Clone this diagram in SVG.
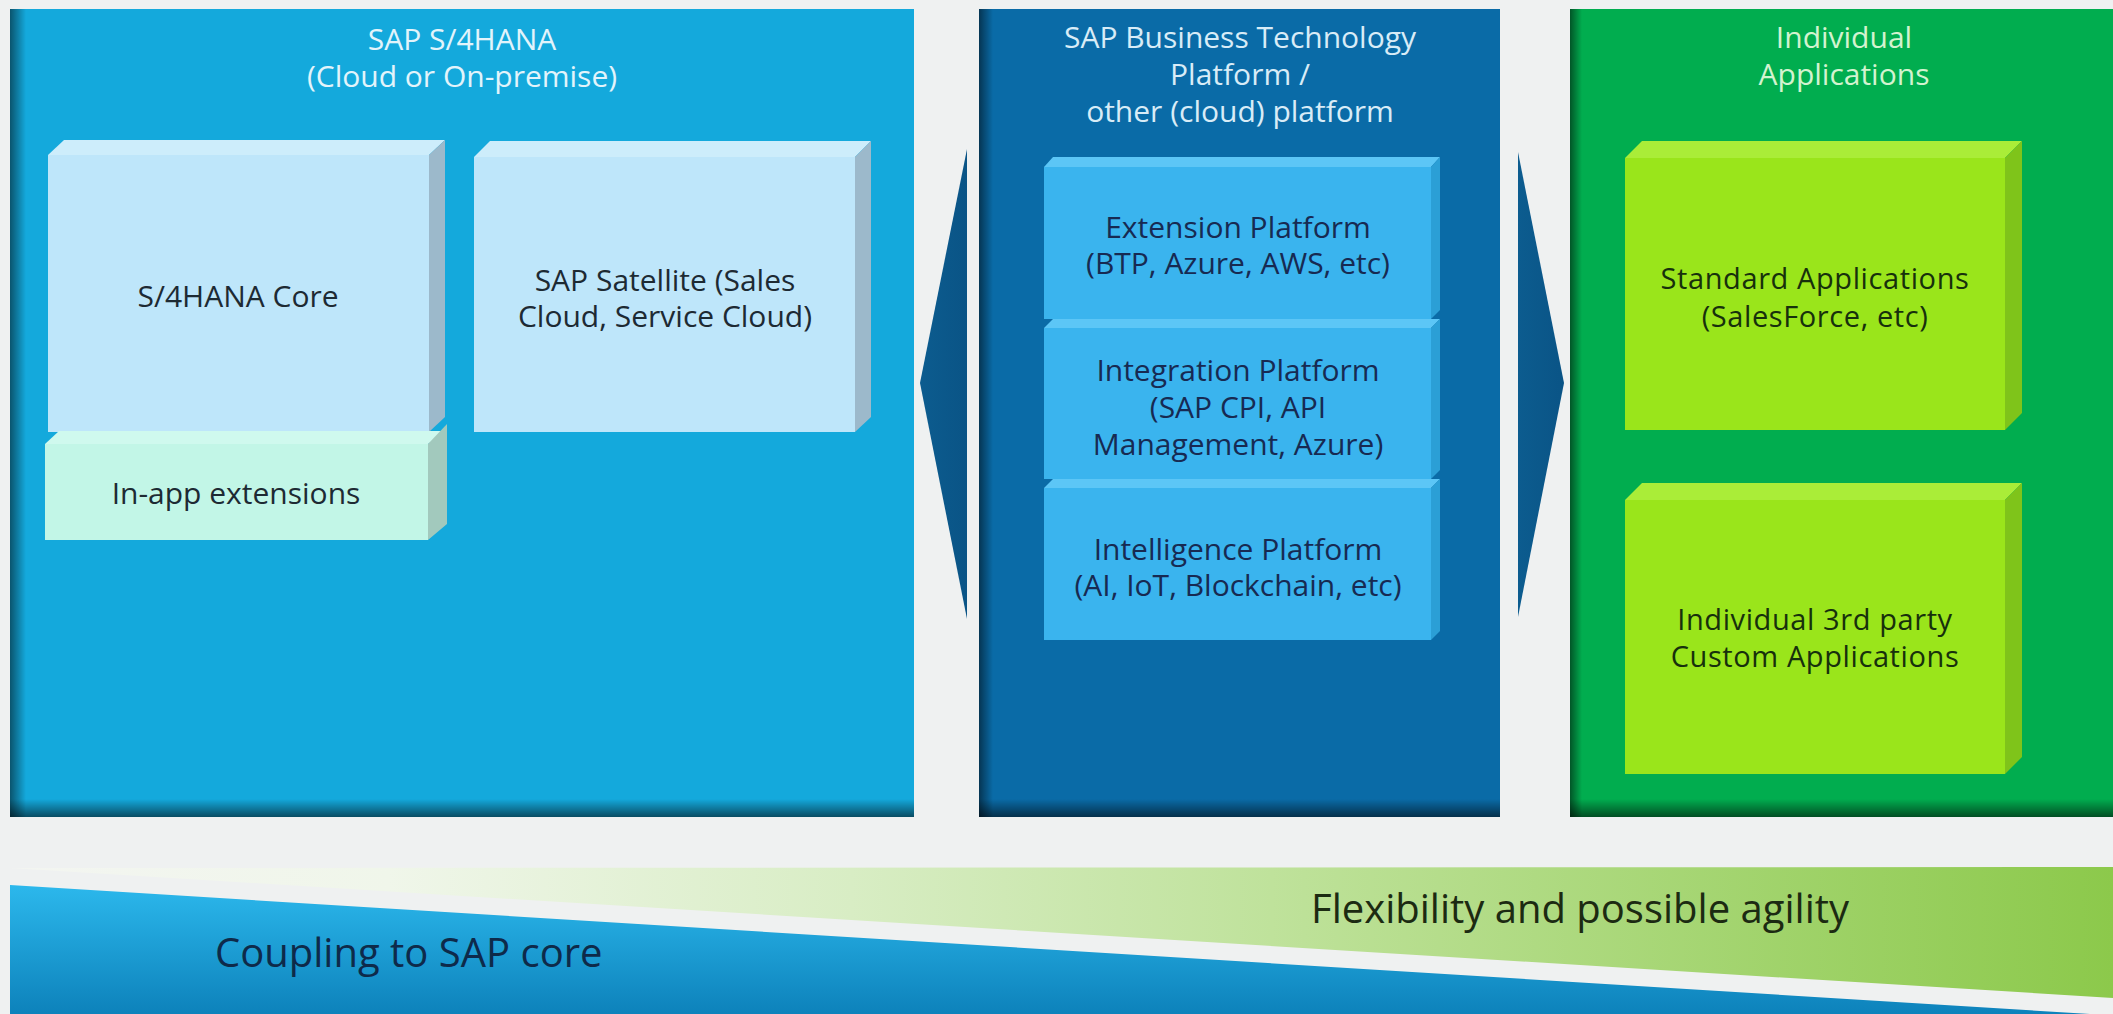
<svg xmlns="http://www.w3.org/2000/svg" width="2113" height="1014" viewBox="0 0 2113 1014">
<defs>
<style>
text{font-family:"Open Sans","Noto Sans","Liberation Sans",sans-serif;text-anchor:middle;font-weight:500}
.title{font-size:30px}
.lt{fill:#e2f4fb}
.mt{fill:#d8ecf7}
.gt{fill:#d3f3cf}
.box{font-size:30px;fill:#1d2a33}
.pbox{font-size:30px;fill:#172a52}
.gbox{font-size:29px;fill:#17300c;letter-spacing:0.6px}
.band{font-size:40px;text-anchor:start}
</style>
<linearGradient id="shadeL" x1="0" y1="0" x2="1" y2="0"><stop offset="0" stop-color="#000" stop-opacity="0.5"/><stop offset="1" stop-color="#000" stop-opacity="0"/></linearGradient>
<linearGradient id="shadeB" x1="0" y1="0" x2="0" y2="1"><stop offset="0" stop-color="#000" stop-opacity="0"/><stop offset="1" stop-color="#000" stop-opacity="0.55"/></linearGradient>
<linearGradient id="greenBand" x1="0" y1="0" x2="1" y2="0"><stop offset="0" stop-color="#f3f5f1"/><stop offset="0.18" stop-color="#f0f6ea"/><stop offset="0.4" stop-color="#d8edc4"/><stop offset="0.6" stop-color="#bfe29b"/><stop offset="1" stop-color="#8cc94b"/></linearGradient>
<linearGradient id="blueBand" x1="0" y1="0" x2="0" y2="1"><stop offset="0" stop-color="#2cb8ec"/><stop offset="1" stop-color="#0d82bb"/></linearGradient>
<linearGradient id="arrowG" x1="0" y1="0" x2="1" y2="0"><stop offset="0" stop-color="#0c5c8f"/><stop offset="1" stop-color="#0a5486"/></linearGradient>
</defs>
<rect width="2113" height="1014" fill="#eff1f1"/>

<!-- bottom bands -->
<g id="bands">
<polygon points="10,868 2113,867 2113,998" fill="url(#greenBand)"/>
<polygon points="10,885 2090,1014 10,1014" fill="url(#blueBand)"/>
<text class="band" x="215" y="967" fill="#0e2a4a">Coupling to SAP core</text>
<text class="band" x="1311" y="923" fill="#1c2a12">Flexibility and possible agility</text>
</g>

<!-- left panel -->
<g id="panel-s4hana">
<rect x="10" y="9" width="904" height="808" fill="#14a9dc"/>
<rect x="10" y="9" width="16" height="808" fill="url(#shadeL)"/>
<rect x="10" y="799" width="904" height="18" fill="url(#shadeB)"/>
<text class="title lt" x="462" y="50">SAP S/4HANA</text>
<text class="title lt" x="462" y="87">(Cloud or On-premise)</text>
</g>

<g id="node-core">
<polygon points="48,155 64,140 445,140 429,155" fill="#cdedfb"/>
<polygon points="429,155 445,140 445,417 429,432" fill="#9cb9cb"/>
<rect x="48" y="155" width="381" height="277" fill="#bee6fa"/>
<text class="box" x="238" y="307">S/4HANA Core</text>
</g>

<g id="node-satellite">
<polygon points="474,157 490,141 871,141 855,157" fill="#cdedfb"/>
<polygon points="855,157 871,141 871,417 855,432" fill="#9cb9cb"/>
<rect x="474" y="157" width="381" height="275" fill="#bee6fa"/>
<text class="box" x="665" y="291">SAP Satellite (Sales</text>
<text class="box" x="665" y="327">Cloud, Service Cloud)</text>
</g>

<g id="node-inapp">
<polygon points="45,444 59,431 447,431 428,444" fill="#cff9ee"/>
<polygon points="428,444 447,424 447,524 428,540" fill="#a2c9bd"/>
<rect x="45" y="444" width="383" height="96" fill="#c2f6e7"/>
<text class="box" x="236" y="504">In-app extensions</text>
</g>

<!-- middle panel -->
<g id="panel-btp">
<rect x="979" y="9" width="521" height="808" fill="#0a6ba7"/>
<rect x="979" y="9" width="14" height="808" fill="url(#shadeL)"/>
<rect x="979" y="799" width="521" height="18" fill="url(#shadeB)"/>
<text class="title mt" x="1240" y="48">SAP Business Technology</text>
<text class="title mt" x="1240" y="85">Platform /</text>
<text class="title mt" x="1240" y="122">other (cloud) platform</text>
</g>

<g id="node-extension">
<polygon points="1044,167 1053,157 1440,157 1431,167" fill="#5cc6f6"/>
<polygon points="1431,167 1440,157 1440,310 1431,319" fill="#2b9fd6"/>
<rect x="1044" y="167" width="387" height="152" fill="#3ab4ee"/>
<text class="pbox" x="1238" y="238">Extension Platform</text>
<text class="pbox" x="1238" y="274">(BTP, Azure, AWS, etc)</text>
</g>

<g id="node-integration">
<polygon points="1044,328 1053,319 1440,319 1431,328" fill="#5cc6f6"/>
<polygon points="1431,328 1440,319 1440,470 1431,479" fill="#2b9fd6"/>
<rect x="1044" y="328" width="387" height="151" fill="#3ab4ee"/>
<text class="pbox" x="1238" y="381">Integration Platform</text>
<text class="pbox" x="1238" y="418">(SAP CPI, API</text>
<text class="pbox" x="1238" y="455">Management, Azure)</text>
</g>

<g id="node-intelligence">
<polygon points="1044,488 1053,479 1440,479 1431,488" fill="#5cc6f6"/>
<polygon points="1431,488 1440,479 1440,631 1431,640" fill="#2b9fd6"/>
<rect x="1044" y="488" width="387" height="152" fill="#3ab4ee"/>
<text class="pbox" x="1238" y="560">Intelligence Platform</text>
<text class="pbox" x="1238" y="596">(AI, IoT, Blockchain, etc)</text>
</g>

<!-- right panel -->
<g id="panel-individual">
<rect x="1570" y="9" width="543" height="808" fill="#01ad4f"/>
<rect x="1570" y="9" width="12" height="808" fill="url(#shadeL)"/>
<rect x="1570" y="799" width="543" height="18" fill="url(#shadeB)"/>
<text class="title gt" x="1844" y="48">Individual</text>
<text class="title gt" x="1844" y="85">Applications</text>
</g>

<g id="node-standard">
<polygon points="1625,158 1642,141 2022,141 2005,158" fill="#aaed38"/>
<polygon points="2005,158 2022,141 2022,413 2005,430" fill="#7fc41a"/>
<rect x="1625" y="158" width="380" height="272" fill="#9ae51b"/>
<text class="gbox" x="1815" y="289">Standard Applications</text>
<text class="gbox" x="1815" y="327">(SalesForce, etc)</text>
</g>

<g id="node-custom">
<polygon points="1625,500 1642,483 2022,483 2005,500" fill="#aaed38"/>
<polygon points="2005,500 2022,483 2022,757 2005,774" fill="#7fc41a"/>
<rect x="1625" y="500" width="380" height="274" fill="#9ae51b"/>
<text class="gbox" x="1815" y="630">Individual 3rd party</text>
<text class="gbox" x="1815" y="667">Custom Applications</text>
</g>

<g id="connectors">
<polygon points="967,149 920,383 967,619" fill="url(#arrowG)"/>
<polygon points="1518,152 1564,383 1518,617" fill="url(#arrowG)"/>
</g>
</svg>
